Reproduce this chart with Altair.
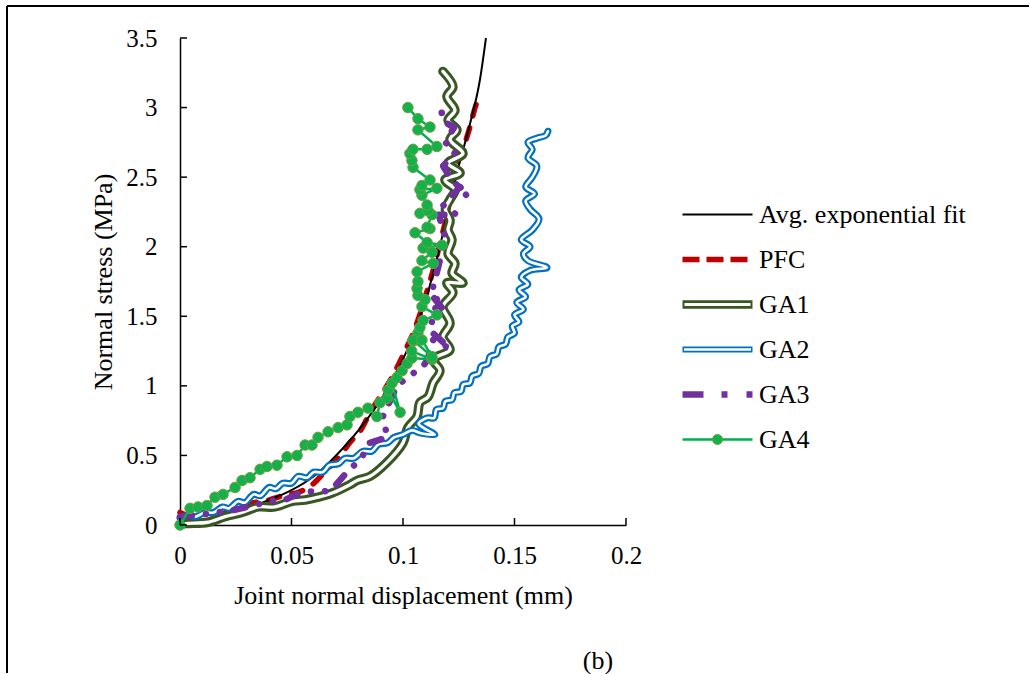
import altair as alt
import pandas as pd

FONT = "Liberation Serif"

SERIES = ["Avg. exponential fit", "PFC", "GA1", "GA2", "GA3", "GA4"]
KEYS = ["k1", "k2", "k3", "k4", "k5", "k6"]
X_TICKS = [0, 0.05, 0.1, 0.15, 0.2]
Y_TICKS = [0, 0.5, 1, 1.5, 2, 2.5, 3, 3.5]

FIT_D = [0, 0.01, 0.02, 0.03, 0.04, 0.05, 0.06, 0.07, 0.08, 0.09, 0.095, 0.10, 0.105, 0.11, 0.115, 0.12, 0.125, 0.13, 0.1345, 0.1372]
FIT_S = [0, 0.03, 0.07, 0.12, 0.18, 0.25, 0.35, 0.50, 0.68, 0.90, 1.04, 1.19, 1.38, 1.61, 1.90, 2.24, 2.58, 2.88, 3.20, 3.50]

PFC_D = [0, 0.004, 0.009, 0.015, 0.022, 0.033, 0.04, 0.046, 0.054, 0.06, 0.066, 0.071, 0.076, 0.081, 0.085, 0.09, 0.095, 0.1, 0.106, 0.1106, 0.1135, 0.1173, 0.1196, 0.1218, 0.1233, 0.1263, 0.130, 0.133, 0.1345]
PFC_S = [0.09, 0.06, 0.01, 0.05, 0.10, 0.16, 0.18, 0.21, 0.24, 0.30, 0.40, 0.48, 0.59, 0.68, 0.80, 0.93, 1.06, 1.22, 1.44, 1.67, 1.83, 2.07, 2.22, 2.41, 2.54, 2.67, 2.86, 3.03, 3.07]

GA1_D = [0, 0.0022, 0.0126, 0.0202, 0.0278, 0.0350, 0.0426, 0.0502, 0.0561, 0.0619, 0.0682, 0.0762, 0.0794, 0.0852, 0.0928, 0.1000, 0.1022, 0.1063, 0.1076, 0.1112, 0.1135, 0.1166, 0.1135, 0.1211, 0.1179, 0.1211, 0.1179, 0.1224, 0.1197, 0.1269, 0.1220, 0.1233, 0.1202, 0.1220, 0.1202, 0.1211, 0.1190, 0.1211, 0.1233, 0.1188, 0.1256, 0.1202, 0.1269, 0.1211, 0.1242, 0.1202, 0.1233, 0.1197, 0.1224, 0.1179]
GA1_S = [0, 0.01, 0.02, 0.06, 0.09, 0.13, 0.13, 0.17, 0.18, 0.20, 0.23, 0.29, 0.32, 0.35, 0.45, 0.59, 0.70, 0.78, 0.88, 0.92, 1.02, 1.11, 1.19, 1.26, 1.35, 1.45, 1.57, 1.67, 1.74, 1.74, 1.81, 1.88, 1.95, 2.05, 2.12, 2.19, 2.27, 2.34, 2.41, 2.48, 2.53, 2.60, 2.67, 2.77, 2.84, 2.91, 2.98, 3.08, 3.15, 3.26]

GA2_D = [0.000, 0.004, 0.007, 0.011, 0.015, 0.019, 0.022, 0.026, 0.029, 0.033, 0.036, 0.040, 0.043, 0.046, 0.050, 0.053, 0.057, 0.060, 0.064, 0.067, 0.071, 0.074, 0.078, 0.082, 0.086, 0.089, 0.093, 0.096, 0.100, 0.104, 0.108, 0.1143, 0.109, 0.107, 0.111, 0.114, 0.115, 0.118, 0.119, 0.122, 0.123, 0.126, 0.127, 0.130, 0.131, 0.134, 0.135, 0.138, 0.139, 0.142, 0.143, 0.146, 0.147, 0.150, 0.149, 0.152, 0.150, 0.154, 0.151, 0.155, 0.152, 0.156, 0.153, 0.157, 0.1646, 0.156, 0.154, 0.157, 0.153, 0.158, 0.161, 0.157, 0.155, 0.159, 0.155, 0.158, 0.160, 0.156, 0.158, 0.156, 0.160, 0.164, 0.165]
GA2_S = [0.05, 0.07, 0.06, 0.09, 0.09, 0.13, 0.12, 0.17, 0.16, 0.22, 0.21, 0.27, 0.26, 0.30, 0.30, 0.35, 0.34, 0.38, 0.38, 0.43, 0.44, 0.48, 0.48, 0.53, 0.53, 0.58, 0.59, 0.63, 0.65, 0.68, 0.66, 0.65, 0.70, 0.73, 0.77, 0.77, 0.83, 0.84, 0.89, 0.90, 0.95, 0.96, 1.01, 1.02, 1.07, 1.09, 1.14, 1.16, 1.21, 1.23, 1.28, 1.30, 1.35, 1.38, 1.43, 1.46, 1.51, 1.55, 1.60, 1.64, 1.69, 1.73, 1.78, 1.83, 1.85, 1.90, 1.95, 2.00, 2.05, 2.12, 2.20, 2.27, 2.33, 2.38, 2.43, 2.50, 2.58, 2.64, 2.70, 2.75, 2.78, 2.80, 2.83]

GA3_D = [0, 0.012, 0.025, 0.03, 0.043, 0.047, 0.055, 0.064, 0.068, 0.070, 0.076, 0.081, 0.085, 0.093, 0.091, 0.097, 0.101, 0.109, 0.111, 0.1135, 0.121, 0.112, 0.115, 0.1135, 0.118, 0.113, 0.117, 0.119, 0.116, 0.124, 0.118, 0.1256, 0.129, 0.121, 0.118, 0.1235, 0.119, 0.123, 0.118, 0.117]
GA3_S = [0.06, 0.08, 0.11, 0.13, 0.18, 0.18, 0.24, 0.24, 0.25, 0.29, 0.40, 0.47, 0.59, 0.63, 0.78, 0.99, 1.05, 1.14, 1.19, 1.33, 1.27, 1.40, 1.59, 1.64, 1.55, 1.68, 1.93, 2.07, 2.23, 2.23, 2.30, 2.43, 2.36, 2.50, 2.58, 2.68, 2.75, 2.86, 2.90, 3.00]

GA4_D = [0, 0.0045, 0.0081, 0.0121, 0.0157, 0.0193, 0.0247, 0.0278, 0.0314, 0.0359, 0.0390, 0.0435, 0.0480, 0.0525, 0.0561, 0.0592, 0.0619, 0.0664, 0.0709, 0.0749, 0.0762, 0.0798, 0.0843, 0.0883, 0.0897, 0.0928, 0.0933, 0.0987, 0.0951, 0.0973, 0.0996, 0.1018, 0.1040, 0.1130, 0.1039, 0.1045, 0.1067, 0.1130, 0.1045, 0.1085, 0.1076, 0.1090, 0.1152, 0.1085, 0.1099, 0.1067, 0.1063, 0.1067, 0.1063, 0.1135, 0.1085, 0.1130, 0.1090, 0.1175, 0.1108, 0.1054, 0.1121, 0.1108, 0.1130, 0.1076, 0.1112, 0.1108, 0.1085, 0.1152, 0.1076, 0.1085, 0.1121, 0.1045, 0.1040, 0.1031, 0.1045, 0.1108, 0.1152, 0.1067, 0.1121, 0.1067, 0.1022]
GA4_S = [0, 0.12, 0.13, 0.14, 0.20, 0.22, 0.27, 0.32, 0.34, 0.40, 0.42, 0.43, 0.49, 0.50, 0.575, 0.575, 0.63, 0.67, 0.70, 0.72, 0.78, 0.81, 0.84, 0.78, 0.88, 0.91, 0.97, 0.81, 1.02, 1.06, 1.11, 1.16, 1.20, 1.19, 1.25, 1.32, 1.38, 1.21, 1.33, 1.33, 1.42, 1.47, 1.51, 1.57, 1.62, 1.65, 1.70, 1.75, 1.82, 1.88, 1.90, 1.96, 1.99, 2.01, 2.03, 2.10, 2.13, 2.14, 2.23, 2.24, 2.26, 2.30, 2.37, 2.42, 2.41, 2.44, 2.48, 2.57, 2.62, 2.67, 2.70, 2.70, 2.72, 2.84, 2.86, 2.92, 3.00]

for a, b in [(FIT_D, FIT_S), (PFC_D, PFC_S), (GA1_D, GA1_S), (GA2_D, GA2_S), (GA3_D, GA3_S), (GA4_D, GA4_S)]:
    assert len(a) == len(b), (len(a), len(b))

TICK_FS = 25
TITLE_FS = 26


def frame(d, s):
    return pd.DataFrame({"d": d, "s": s, "i": list(range(len(d)))})


def xenc(field):
    return alt.X(
        f"{field}:Q",
        scale=alt.Scale(domain=[0, 0.2], nice=False, zero=False),
        axis=alt.Axis(
            title="Joint normal displacement (mm)", values=X_TICKS, format="~g",
            ticks=False, tickSize=0, grid=False, domainColor="black", domainWidth=1.5,
            labelFont=FONT, labelFontSize=TICK_FS, labelColor="black", labelPadding=18,
            labelFlush=False, labelOverlap=False,
            titleFont=FONT, titleFontSize=TITLE_FS, titleFontWeight="normal", titleColor="black",
            titlePadding=14,
        ),
    )


def yenc(field):
    return alt.Y(
        f"{field}:Q",
        scale=alt.Scale(domain=[0, 3.5], nice=False, zero=False),
        axis=alt.Axis(
            title="Normal stress (MPa)", values=Y_TICKS, format="~g",
            ticks=False, tickSize=0, grid=False, domainColor="black", domainWidth=1.5,
            labelFont=FONT, labelFontSize=TICK_FS, labelColor="black", labelPadding=23,
            labelFlush=False, labelOverlap=False,
            titleFont=FONT, titleFontSize=TITLE_FS, titleFontWeight="normal", titleColor="black",
            titlePadding=9,
        ),
    )


def line(d, s, **kw):
    return alt.Chart(frame(d, s)).mark_line(strokeJoin="round", **kw).encode(
        x=xenc("d"), y=yenc("s"), order=alt.Order("i:Q")
    )


pfc = line(PFC_D, PFC_S, color="#c00000", strokeWidth=5.5, strokeDash=[11.5, 12.5], strokeCap="round", interpolate="monotone")
fit = line(FIT_D, FIT_S, color="black", strokeWidth=2, interpolate="monotone")
ga1o = line(GA1_D, GA1_S, color="#385723", strokeWidth=9.5, strokeCap="round", interpolate="catmull-rom")
ga1i = line(GA1_D, GA1_S, color="white", strokeWidth=3.4, strokeCap="round", interpolate="catmull-rom")
ga2o = line(GA2_D, GA2_S, color="#0070c0", strokeWidth=7, strokeCap="round", interpolate="catmull-rom")
ga2i = line(GA2_D, GA2_S, color="white", strokeWidth=2.6, strokeCap="round", interpolate="catmull-rom")
ga3 = line(GA3_D, GA3_S, color="#7030a0", strokeWidth=6.5, strokeDash=[12, 14, 0.1, 14, 0.1, 14], strokeCap="round")
ga4 = line(GA4_D, GA4_S, color="#00b050", strokeWidth=2.5)
ga4p = alt.Chart(frame(GA4_D, GA4_S)).mark_point(
    filled=True, fill="#14b04c", stroke="#70a03c", strokeWidth=1, size=110, opacity=1
).encode(x=xenc("d"), y=yenc("s"))

# inward tick marks
xt = alt.Chart(pd.DataFrame({"d": X_TICKS, "z": [0] * len(X_TICKS)})).mark_rule(
    color="black", strokeWidth=1.5
).encode(x=xenc("d"), y=yenc("z"), y2=alt.value(480))
yt = alt.Chart(pd.DataFrame({"s": Y_TICKS, "z": [0] * len(Y_TICKS)})).mark_rule(
    color="black", strokeWidth=1.5
).encode(y=yenc("s"), x=xenc("z"), x2=alt.value(7))

LEG = dict(
    orient="none", legendX=498, legendY=154, direction="vertical", title=None,
    clipHeight=45, rowPadding=0, padding=0, offset=0, labelLimit=0,
    labelFont=FONT, labelFontSize=TITLE_FS, labelColor="black", labelOffset=2,
)

leg_df = pd.DataFrame({"series": SERIES, "key": KEYS, "d": [0] * 6, "s": [0] * 6})

legend1 = alt.Chart(leg_df).transform_filter("false").mark_line().encode(
    x=xenc("d"), y=yenc("s"),
    color=alt.Color(
        "series:N",
        scale=alt.Scale(domain=SERIES, range=["black", "#c00000", "#385723", "#0070c0", "#7030a0", "#00b050"]),
        legend=alt.Legend(symbolSize=4900, symbolType="stroke", **LEG),
    ),
    strokeDash=alt.StrokeDash(
        "series:N",
        scale=alt.Scale(domain=SERIES, range=[[1, 0], [17, 7], [1, 0], [1, 0], [21, 18, 6, 19, 6, 19], [1, 0]]),
        legend=alt.Legend(symbolSize=4900, symbolType="stroke", **LEG),
    ),
    strokeWidth=alt.StrokeWidth(
        "series:N",
        scale=alt.Scale(type="ordinal", domain=SERIES, range=[2, 5.5, 8.5, 6.2, 6.5, 2.5]),
        legend=alt.Legend(symbolSize=4900, symbolType="stroke", **LEG),
    ),
)

LEG2 = dict(LEG)
LEG2["labelExpr"] = "''"

legend2 = alt.Chart(leg_df).transform_filter("false").mark_point(filled=True, opacity=1).encode(
    x=xenc("d"), y=yenc("s"),
    fill=alt.Fill(
        "key:N",
        scale=alt.Scale(domain=KEYS, range=["transparent", "transparent", "transparent", "transparent", "transparent", "#14b04c"]),
        legend=alt.Legend(**LEG2),
    ),
    stroke=alt.Stroke(
        "key:N",
        scale=alt.Scale(domain=KEYS, range=["transparent", "transparent", "white", "white", "transparent", "#70a03c"]),
        legend=alt.Legend(**LEG2),
    ),
    shape=alt.Shape(
        "key:N",
        scale=alt.Scale(domain=KEYS, range=["stroke", "stroke", "stroke", "stroke", "stroke", "circle"]),
        legend=alt.Legend(**LEG2),
    ),
    size=alt.Size(
        "key:N",
        scale=alt.Scale(type="ordinal", domain=KEYS, range=[4900, 4900, 4356, 4489, 4900, 100]),
        legend=alt.Legend(**LEG2),
    ),
    strokeWidth=alt.StrokeWidth(
        "key:N",
        scale=alt.Scale(type="ordinal", domain=KEYS, range=[8.5, 8.5, 3, 2.5, 8.5, 1]),
        legend=alt.Legend(**LEG2),
    ),
)

dummy = pd.DataFrame({"k": [0]})
frame_v = alt.Chart(dummy).mark_rule(color="black", strokeWidth=2).encode(
    x=alt.value(-173), y=alt.value(-32), y2=alt.value(635)
)
frame_h = alt.Chart(dummy).mark_rule(color="black", strokeWidth=2).encode(
    x=alt.value(-173), x2=alt.value(849), y=alt.value(-32)
)
caption = alt.Chart(dummy).mark_text(
    text="(b)", font=FONT, fontSize=TITLE_FS, color="black", align="center", baseline="middle"
).encode(x=alt.value(418), y=alt.value(623))

chart = alt.layer(
    pfc, fit, ga1o, ga1i, ga2o, ga2i, ga3, ga4, ga4p, xt, yt,
    legend1, legend2, frame_v, frame_h, caption,
).resolve_scale(
    color="independent", strokeDash="independent", strokeWidth="independent",
    fill="independent", stroke="independent", shape="independent", size="independent",
).properties(
    width=446, height=487,
    padding={"left": 6, "top": 5, "right": 0, "bottom": 0},
    background="white",
).configure_view(strokeWidth=0)

chart.save("out.html", embed_options={"renderer": "svg", "actions": False})
